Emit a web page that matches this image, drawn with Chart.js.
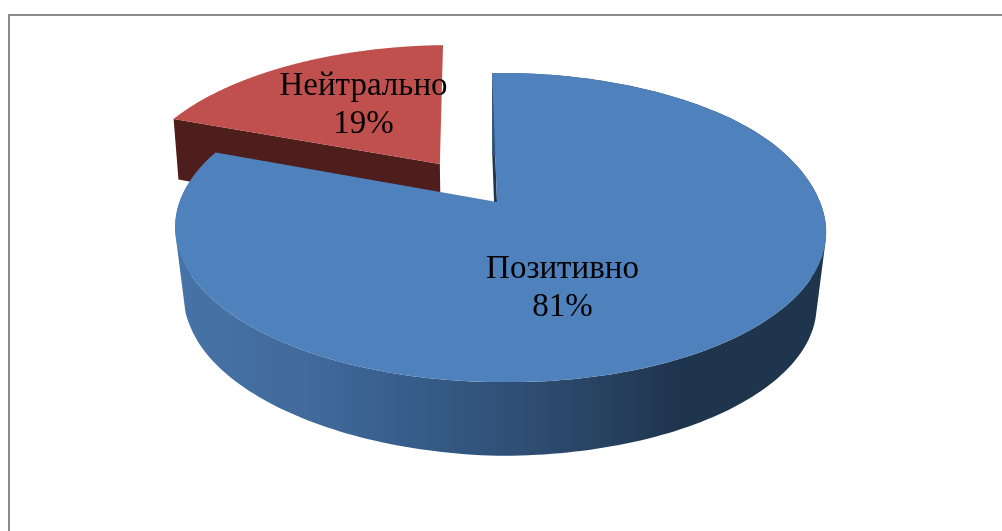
<!DOCTYPE html>
<html><head><meta charset="utf-8">
<style>html,body{margin:0;padding:0;background:#fff}canvas{display:block}</style>
<script src="https://cdn.jsdelivr.net/npm/chart.js@4"></script>
</head><body>
<canvas id="c" width="1002" height="531"></canvas>
<script>
const categories = ['Позитивно', 'Нейтрально'];
const shares = [81, 19];
const percentLabels = ['81%', '19%'];
const topColors = ['#4f81bd', '#c0504d'];
const explodeFractions = [0, 0.323];

// view of the 3D disc
const VIEW = {x0: 497, y0: 202, a: 321, b: 150.3, p: 0.165, q: 0.011};
const clamp01 = x => Math.min(1, Math.max(0, x));
const smooth = x => { const t = clamp01(x); return t * t * (3 - 2 * t); };
function project(u, v) {
  const w = 1 + VIEW.p * v - VIEW.q * u;
  return [VIEW.x0 + VIEW.a * u / w, VIEW.y0 - VIEW.b * v / w];
}
// small corrections of the near slice's rims towards the picture's shape
function topNear(u, v) {
  const p = project(u, v);
  return [p[0], p[1] + 4.5 * Math.max(u, 0) * smooth((0.6 - v) / 0.7)];
}
// lower rim of the near slice: same disc, slightly smaller and lower
function lowNear(u, v) {
  const w = 1 + VIEW.p * v - VIEW.q * u, k = 0.971;
  return [VIEW.x0 + k * VIEW.a * u / w,
          281 - k * VIEW.b * v / w + 8 * Math.min(u, 0) * clamp01(-v * 3)];
}
// lower rim of the far, exploded slice: depth shrinks with distance
function lowFar(u, v) {
  const w = 1 + VIEW.p * v - VIEW.q * u + 0.017;
  return [VIEW.x0 + VIEW.a * u / w, VIEW.y0 - (VIEW.b * v - 67) / w];
}
function rim(el, i, fn) {
  const d = explodeFractions[i], mid = (el.startAngle + el.endAngle) / 2;
  const ox = d * Math.cos(mid), oy = -d * Math.sin(mid);
  const pts = [], n = 240;
  for (let k = 0; k <= n; k++) {
    const t = el.startAngle + (el.endAngle - el.startAngle) * k / n;
    pts.push(fn(Math.cos(t) + ox, -Math.sin(t) + oy));
  }
  return {pts, apex: fn(ox, oy)};
}
function trace(ctx, pts) {
  pts.forEach((p, i) => i ? ctx.lineTo(p[0], p[1]) : ctx.moveTo(p[0], p[1]));
  ctx.closePath();
}
function poly(ctx, pts, fill) {
  ctx.beginPath();
  trace(ctx, pts);
  ctx.fillStyle = fill;
  ctx.fill();
}
const pie3d = {
  id: 'pie3d',
  beforeDraw(chart) {
    const ctx = chart.ctx;
    ctx.save();
    ctx.fillStyle = '#fff';
    ctx.fillRect(0, 0, chart.width, chart.height);
    ctx.fillStyle = '#8c8c8c';
    ctx.fillRect(8, 14, 994, 2);
    ctx.fillRect(8, 14, 2, 517);
    ctx.restore();
  },
  beforeDatasetDraw(chart, args) {
    const ctx = chart.ctx, arcs = chart.getDatasetMeta(args.index).data;
    ctx.save();
    // far, exploded slice first
    const r = 1, b = 0;
    const rT = rim(arcs[r], r, project), rL = rim(arcs[r], r, lowFar);
    poly(ctx, [rT.pts[0], rT.apex, rL.apex, rL.pts[0]], '#4d1e1c');
    poly(ctx, rT.pts.concat([rT.apex]), arcs[r].options.backgroundColor);

    const bT = rim(arcs[b], b, topNear), bL = rim(arcs[b], b, lowNear);
    const g = ctx.createLinearGradient(175, 0, 826, 0);
    g.addColorStop(0, '#4674a8');
    g.addColorStop(0.2, '#426a9b');
    g.addColorStop(0.35, '#375e8b');
    g.addColorStop(0.58, '#2c4a6d');
    g.addColorStop(0.78, '#1f344d');
    g.addColorStop(1, '#1f344d');
    poly(ctx, [bT.pts[0], bT.apex, bL.apex, bL.pts[0]], '#1f344d');
    // side wall: one path, so no seams
    ctx.beginPath();
    for (let k = 0; k < bT.pts.length - 1; k++) {
      const A = bT.pts[k], B = bT.pts[k + 1], C = bL.pts[k + 1], D = bL.pts[k];
      const area = (B[0] - A[0]) * (C[1] - A[1]) - (B[1] - A[1]) * (C[0] - A[0]);
      trace(ctx, area > 0 ? [A, B, C, D] : [D, C, B, A]);
    }
    ctx.fillStyle = g;
    ctx.fill('nonzero');
    poly(ctx, bT.pts.concat([bT.apex]), arcs[b].options.backgroundColor);
    ctx.restore();
    return false;
  },
  afterDraw(chart) {
    const ctx = chart.ctx;
    ctx.save();
    ctx.fillStyle = '#000';
    ctx.font = '33px "Liberation Serif"';
    ctx.textAlign = 'center';
    ctx.textBaseline = 'alphabetic';
    const spots = [[562.5, 278, 316], [363.5, 95, 133]];
    categories.forEach((name, i) => {
      ctx.fillText(name, spots[i][0], spots[i][1]);
      ctx.fillText(percentLabels[i], spots[i][0], spots[i][2]);
    });
    ctx.restore();
  }
};
new Chart(document.getElementById('c'), {
  type: 'pie',
  data: {labels: categories, datasets: [{data: shares, backgroundColor: topColors, borderWidth: 0}]},
  options: {
    responsive: false, animation: false, rotation: -1,
    plugins: {legend: {display: false}, tooltip: {enabled: false}}
  },
  plugins: [pie3d]
});
</script>
</body></html>
